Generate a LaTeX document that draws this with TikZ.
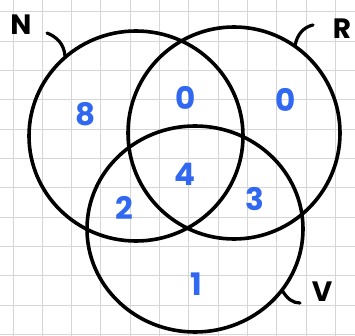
\documentclass[tikz,border=0pt]{standalone}
\usepackage{fontspec}
\setmainfont{Poppins}
\usetikzlibrary{shapes.geometric}
\definecolor{numblue}{HTML}{3068F2}
\definecolor{gridgray}{HTML}{D6D6D6}
\tikzset{
  gridline/.style={draw=gridgray, line width=1pt},
  setring/.style={ellipse, draw=black, line width=3.6pt, inner sep=0pt, fill=none},
  settick/.style={draw=black, line width=3.2pt, line cap=round},
  setname/.style={font=\fontsize{28}{28}\selectfont\bfseries, text=black, inner sep=0pt},
  count/.style={font=\fontsize{31}{31}\selectfont\bfseries, text=numblue, inner sep=0pt},
}
\begin{document}
\begin{tikzpicture}[x=1pt,y=-1pt]
\useasboundingbox (0,0) rectangle (355,336);
\fill[white] (0,0) rectangle (355,336);
\foreach \i in {0,...,11} {
  \draw[gridline] ({13+29.3*\i},0) -- ({13+29.3*\i},336);
  \draw[gridline] (0,{12+29.3*\i}) -- (355,{12+29.3*\i});
}
% sets
\node[setring, minimum width=214pt, minimum height=210pt] (N) at (136,136) {};
\node[setring, minimum width=212pt, minimum height=212pt] (R) at (234,133) {};
\node[setring, minimum width=216pt, minimum height=206pt] (V) at (195,229) {};
% names and ticks
\node[setname] (nN) at (21,25) {N};
\node[setname] (nR) at (342,29) {R};
\node[setname] (nV) at (322,292) {V};
\coordinate (tN1) at (47,33);
\coordinate (tN2) at (65,56);
\coordinate (tR1) at (313,25);
\coordinate (tR2) at (295,46);
\coordinate (tV1) at (282,290);
\coordinate (tV2) at (300,303);
\draw[settick] (tN1) .. controls (57,37) and (64,44) .. (tN2);
\draw[settick] (tR1) .. controls (304,27) and (297,34) .. (tR2);
\draw[settick] (tV1) .. controls (287,299) and (293,303) .. (tV2);
% counts
\node[count] (c8) at (86,114) {8};
\node[count] (c0a) at (186,98) {0};
\node[count] (c0b) at (286,100) {0};
\node[count] (c4) at (185,174) {4};
\node[count] (c2) at (124,208) {2};
\node[count] (c3) at (255,199) {3};
\node[count] (c1) at (196,284) {1};
\end{tikzpicture}
\end{document}
